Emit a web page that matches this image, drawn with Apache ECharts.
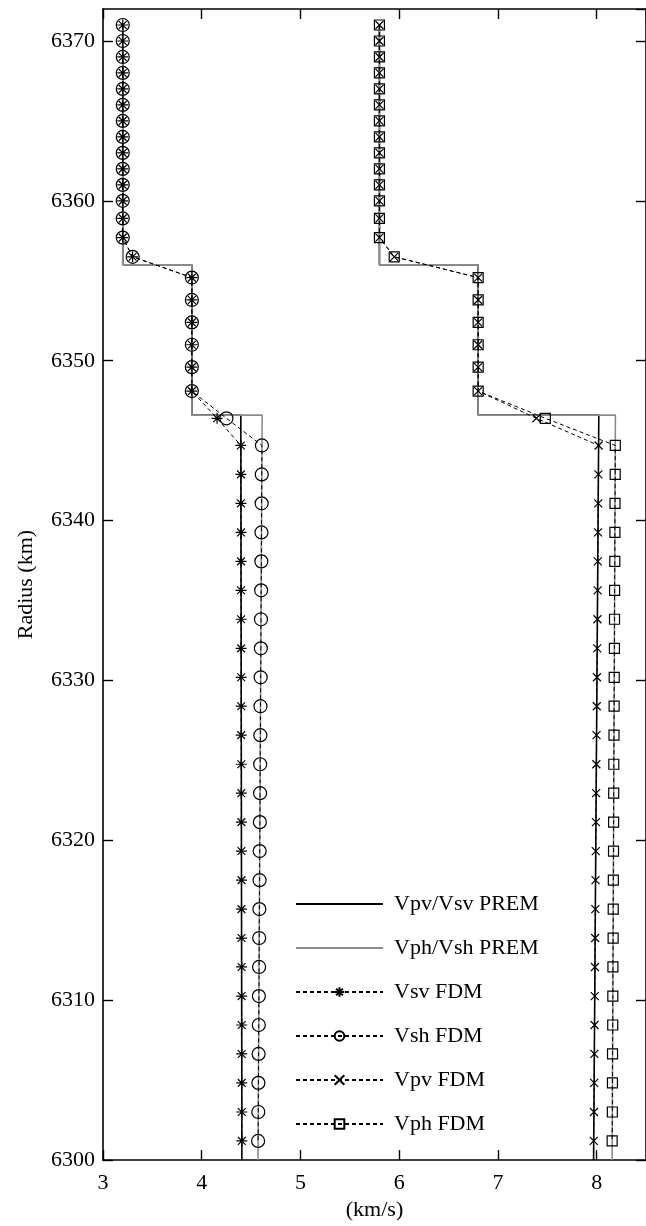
<!DOCTYPE html>
<html>
<head>
<meta charset="utf-8">
<script src="https://cdn.jsdelivr.net/npm/echarts@6/dist/echarts.min.js"></script>
<style>
  html, body { margin: 0; padding: 0; background: #fff; }
  #chart { width: 646px; height: 1226px; }
</style>
</head>
<body>
<div id="chart"></div>
<script>
// PREM reference profile (step model: upper crust, lower crust, anisotropic LID)
const premRadius = [6371, 6356, 6356, 6346.6, 6346.6, 6300];
const premVsv = [3.2, 3.2, 3.9, 3.9, 4.396, 4.407];
const premVsh = [3.2, 3.2, 3.9, 3.9, 4.612, 4.570];
const premVpv = [5.8, 5.8, 6.8, 6.8, 8.022, 7.969];
const premVph = [5.8, 5.8, 6.8, 6.8, 8.190, 8.157];

// FDM grid radii (km)
const fdmRadius = [
  6371, 6370, 6369, 6368, 6367, 6366, 6365, 6364, 6363, 6362, 6361, 6360, 6358.9, 6357.7,
  6356.5,
  6355.2, 6353.8, 6352.4, 6351.0, 6349.6, 6348.1,
  6346.4,
  6344.70, 6342.89, 6341.08, 6339.26, 6337.45, 6335.64, 6333.83, 6332.01, 6330.20,
  6328.39, 6326.58, 6324.76, 6322.95, 6321.14, 6319.33, 6317.51, 6315.70, 6313.89,
  6312.08, 6310.26, 6308.45, 6306.64, 6304.83, 6303.01, 6301.20
];

// FDM velocities (km/s)
const fdmVsv = [
  3.2, 3.2, 3.2, 3.2, 3.2, 3.2, 3.2, 3.2, 3.2, 3.2, 3.2, 3.2, 3.2, 3.2,
  3.30,
  3.9, 3.9, 3.9, 3.9, 3.9, 3.9,
  4.155,
  4.396, 4.397, 4.397, 4.398, 4.398, 4.398, 4.399, 4.399, 4.400,
  4.400, 4.400, 4.401, 4.401, 4.402, 4.402, 4.403, 4.403, 4.403,
  4.404, 4.404, 4.405, 4.405, 4.405, 4.406, 4.406
];
const fdmVsh = [
  3.2, 3.2, 3.2, 3.2, 3.2, 3.2, 3.2, 3.2, 3.2, 3.2, 3.2, 3.2, 3.2, 3.2,
  3.30,
  3.9, 3.9, 3.9, 3.9, 3.9, 3.9,
  4.25,
  4.610, 4.608, 4.607, 4.605, 4.604, 4.602, 4.600, 4.599, 4.597,
  4.595, 4.594, 4.592, 4.591, 4.589, 4.587, 4.586, 4.584, 4.582,
  4.581, 4.579, 4.578, 4.576, 4.574, 4.573, 4.571
];
const fdmVpv = [
  5.8, 5.8, 5.8, 5.8, 5.8, 5.8, 5.8, 5.8, 5.8, 5.8, 5.8, 5.8, 5.8, 5.8,
  5.95,
  6.8, 6.8, 6.8, 6.8, 6.8, 6.8,
  7.39,
  8.020, 8.018, 8.016, 8.014, 8.012, 8.010, 8.008, 8.006, 8.003,
  8.001, 7.999, 7.997, 7.995, 7.993, 7.991, 7.989, 7.987, 7.985,
  7.983, 7.981, 7.979, 7.977, 7.975, 7.973, 7.971
];
const fdmVph = [
  5.8, 5.8, 5.8, 5.8, 5.8, 5.8, 5.8, 5.8, 5.8, 5.8, 5.8, 5.8, 5.8, 5.8,
  5.95,
  6.8, 6.8, 6.8, 6.8, 6.8, 6.8,
  7.48,
  8.189, 8.188, 8.186, 8.185, 8.184, 8.182, 8.181, 8.180, 8.178,
  8.177, 8.176, 8.174, 8.173, 8.172, 8.171, 8.169, 8.168, 8.167,
  8.165, 8.164, 8.163, 8.161, 8.160, 8.159, 8.157
];

const legendNames = ['Vpv/Vsv PREM', 'Vph/Vsh PREM', 'Vsv FDM', 'Vsh FDM', 'Vpv FDM', 'Vph FDM'];

const FONT = "'Liberation Serif', 'Times New Roman', serif";

function pairs(xs, ys) {
  return xs.map((v, i) => [v, ys[i]]);
}

const SYM_STAR = 'path://M0,-10L0,10M-10,0L10,0M-7.07,-7.07L7.07,7.07M-7.07,7.07L7.07,-7.07';
const SYM_CROSS = 'path://M-10,-10L10,10M-10,10L10,-10';

// model curves: plain lines, markers kept fully transparent (legend shows a bare line)
function premSeries(name, xs, color, width) {
  return {
    name: name,
    type: 'line',
    data: pairs(xs, premRadius),
    symbol: 'circle',
    showSymbol: false,
    lineStyle: { color: color, width: width, type: 'solid' },
    itemStyle: { color: 'rgba(0,0,0,0)', borderWidth: 0 },
    emphasis: { disabled: true },
    silent: true
  };
}

function fdmSeries(name, xs, symbol, size) {
  return {
    name: name,
    type: 'line',
    data: pairs(xs, fdmRadius),
    symbol: symbol,
    symbolSize: size,
    showSymbol: true,
    showAllSymbol: true,
    lineStyle: { color: '#000', width: 1, type: [4, 3] },
    itemStyle: { color: 'rgba(0,0,0,0)', borderColor: '#000', borderWidth: 1.2 },
    emphasis: { disabled: true },
    silent: true,
    z: 3
  };
}

const axisLineStyle = { lineStyle: { color: '#000', width: 1.6 } };
const tickStyle = { show: true, inside: true, length: 10, lineStyle: { color: '#000', width: 1.4 } };

const option = {
  animation: false,
  backgroundColor: '#fff',
  grid: { left: 103, right: -2, top: 9, bottom: 65, containLabel: false },
  xAxis: [
    {
      type: 'value', position: 'bottom', min: 3, max: 8.5, interval: 1,
      name: '(km/s)', nameLocation: 'middle', nameGap: 36,
      nameTextStyle: { fontFamily: FONT, fontSize: 22, color: '#000' },
      axisLine: axisLineStyle, axisTick: tickStyle,
      axisLabel: { fontFamily: FONT, fontSize: 22, color: '#000', margin: 12, showMaxLabel: false,
                   formatter: v => String(v) },
      splitLine: { show: false }
    },
    {
      type: 'value', position: 'top', min: 3, max: 8.5, interval: 1,
      axisLine: axisLineStyle, axisTick: tickStyle,
      axisLabel: { show: false }, splitLine: { show: false }
    }
  ],
  yAxis: [
    {
      type: 'value', position: 'left', min: 6300, max: 6372, interval: 10,
      name: 'Radius (km)', nameLocation: 'middle', nameGap: 66,
      nameTextStyle: { fontFamily: FONT, fontSize: 22, color: '#000' },
      axisLine: axisLineStyle, axisTick: tickStyle,
      axisLabel: { fontFamily: FONT, fontSize: 22, color: '#000', margin: 8, showMaxLabel: false,
                   formatter: v => String(v) },
      splitLine: { show: false }
    },
    {
      type: 'value', position: 'right', min: 6300, max: 6372, interval: 10,
      axisLine: axisLineStyle, axisTick: tickStyle,
      axisLabel: { show: false }, splitLine: { show: false }
    }
  ],
  legend: {
    data: legendNames,
    orient: 'vertical',
    left: 290,
    top: 888,
    itemWidth: 87,
    itemHeight: 12,
    itemGap: 22,
    selectedMode: false,
    textStyle: { fontFamily: FONT, fontSize: 22, color: '#000', padding: [0, 0, 0, 6] }
  },
  series: [
    premSeries('Vpv/Vsv PREM', premVsv, '#000', 1.6),
    premSeries('Vpv/Vsv PREM', premVpv, '#000', 1.6),
    premSeries('Vph/Vsh PREM', premVsh, '#8c8c8c', 1.6),
    premSeries('Vph/Vsh PREM', premVph, '#8c8c8c', 1.6),
    fdmSeries('Vsv FDM', fdmVsv, SYM_STAR, 11),
    fdmSeries('Vsh FDM', fdmVsh, 'circle', 13),
    fdmSeries('Vpv FDM', fdmVpv, SYM_CROSS, 8),
    fdmSeries('Vph FDM', fdmVph, 'rect', 10)
  ]
};

const chart = echarts.init(document.getElementById('chart'), null, { renderer: 'canvas' });
chart.setOption(option);
</script>
</body>
</html>
